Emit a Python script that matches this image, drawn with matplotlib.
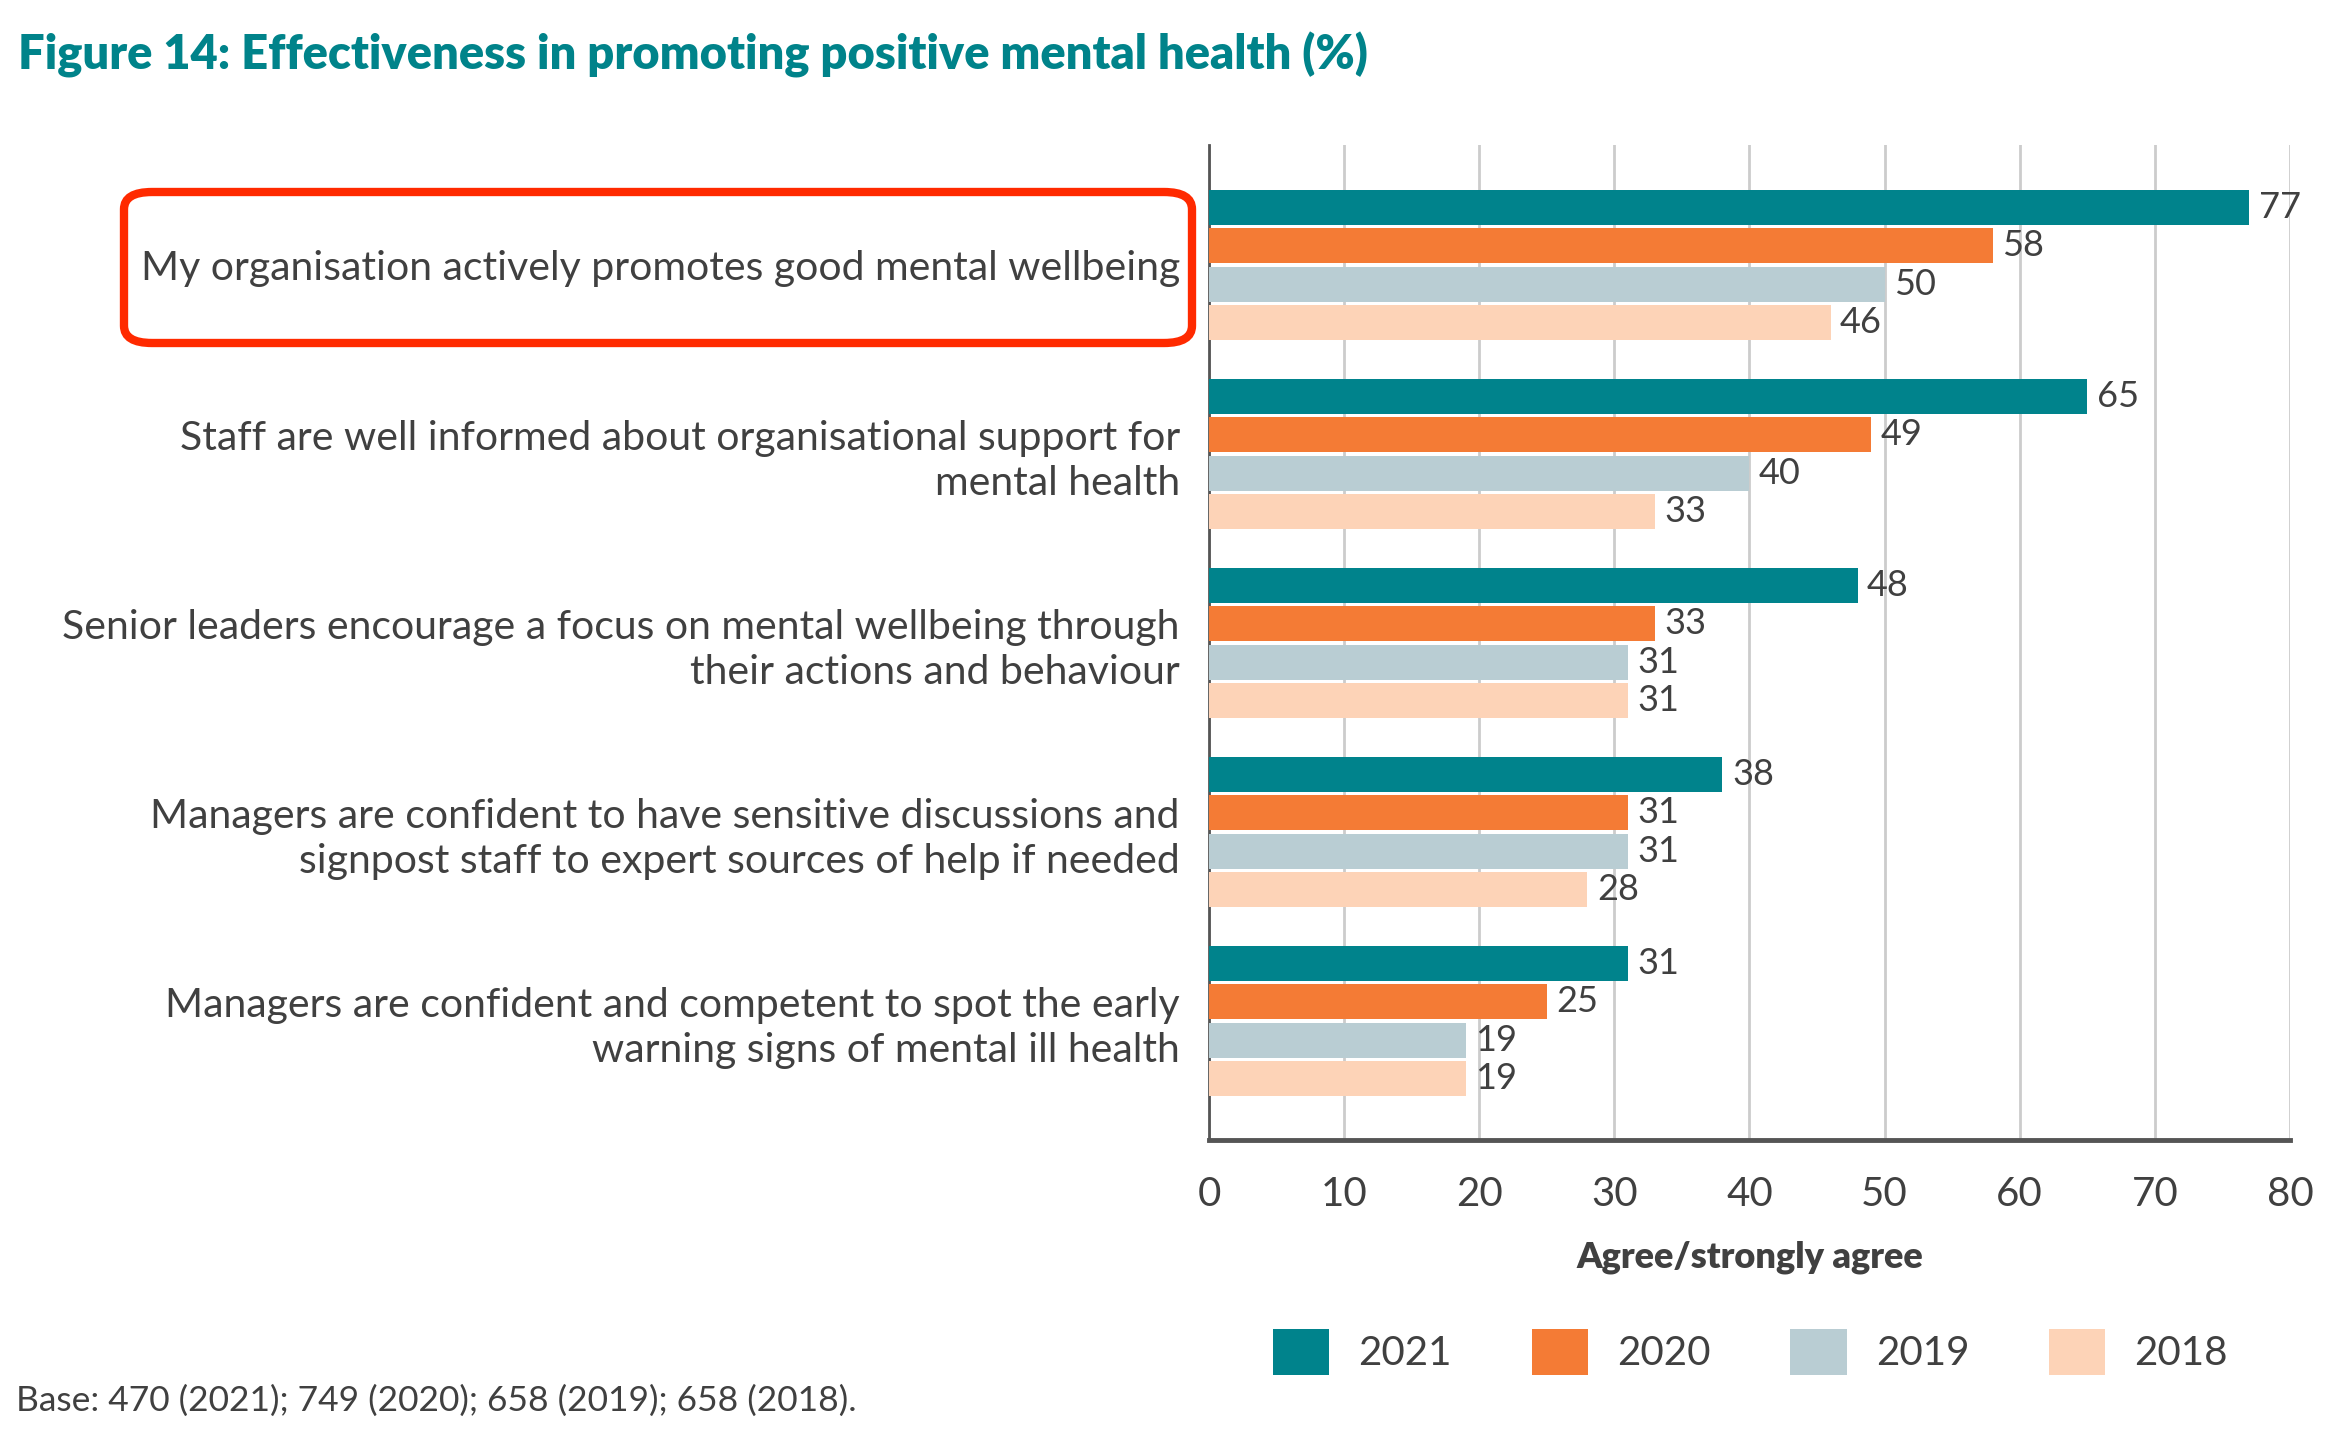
import matplotlib
matplotlib.use("Agg")
import matplotlib.pyplot as plt
from matplotlib.patches import Patch, FancyBboxPatch
import numpy as np

plt.rcParams['font.family'] = ['Lato', 'DejaVu Sans']

categories = [
    "My organisation actively promotes good mental wellbeing",
    "Staff are well informed about organisational support for\nmental health",
    "Senior leaders encourage a focus on mental wellbeing through\ntheir actions and behaviour",
    "Managers are confident to have sensitive discussions and\nsignpost staff to expert sources of help if needed",
    "Managers are confident and competent to spot the early\nwarning signs of mental ill health",
]
years = ["2021", "2020", "2019", "2018"]
v2021 = [77, 65, 48, 38, 31]
v2020 = [58, 49, 33, 31, 25]
v2019 = [50, 40, 31, 31, 19]
v2018 = [46, 33, 31, 28, 19]
series = [v2021, v2020, v2019, v2018]
colors = ["#00838C", "#F47B35", "#B9CDD3", "#FDD3B7"]

text_col = "#404040"
W, H = 2334, 1438
fig = plt.figure(figsize=(W / 100, H / 100), dpi=100)

# axes in pixel box
left, right, top, bottom = 1209, 2290, 145, 1140
ax = fig.add_axes([left / W, 1 - bottom / H, (right - left) / W, (bottom - top) / H])

pitch = 38.3 / 189
bar_h = 35 / 189
y = np.arange(len(categories))
for j, (vals, col) in enumerate(zip(series, colors)):
    pos = y + (j - 1.5) * pitch
    bars = ax.barh(pos, vals, height=bar_h, color=col, zorder=3)
    for b, v in zip(bars, vals):
        ax.text(v + 0.7, b.get_y() + b.get_height() / 2, str(v), va="center", ha="left",
                fontsize=26, color=text_col)

ax.set_xlim(0, 80)
ax.set_ylim(4.63, -0.635)
ax.set_xticks(range(0, 81, 10))
ax.tick_params(axis="x", length=0, labelsize=29, colors=text_col, pad=26)
ax.tick_params(axis="y", length=0, pad=21)
ax.set_yticks(y)
ax.set_yticklabels(categories, fontsize=29.5, color=text_col, linespacing=1.25)
ax.grid(axis="x", color="#CCCCCC", linewidth=2, zorder=0)
ax.spines["top"].set_visible(False)
ax.spines["right"].set_visible(False)
ax.spines["left"].set_color("#555555")
ax.spines["left"].set_linewidth(2)
ax.spines["bottom"].set_color("#555555")
ax.spines["bottom"].set_linewidth(3.5)
ax.set_xlabel("Agree/strongly agree", fontsize=26, fontweight="heavy", color=text_col, labelpad=20)

fig.text(18 / W, 1 - 55 / H, "Figure 14: Effectiveness in promoting positive mental health (%)",
         fontsize=33.8, fontweight="heavy", color="#00838A", va="center", ha="left")

fig.text(16 / W, 1 - 1401 / H, "Base: 470 (2021); 749 (2020); 658 (2019); 658 (2018).",
         fontsize=25.5, color=text_col, va="center", ha="left")

# highlight box around first category
box = FancyBboxPatch((124 / W, 1 - 343 / H), (1192 - 124) / W, (343 - 192) / H,
                     boxstyle="round,pad=0,rounding_size=0.012", transform=fig.transFigure,
                     fill=False, edgecolor="#FF2A00", linewidth=6, zorder=5)
fig.patches.append(box)

handles = [Patch(facecolor=c, label=yr) for c, yr in zip(colors, years)]
fig.legend(handles=handles, loc="center left", bbox_to_anchor=(1273 / W, 1 - 1352 / H),
           ncol=4, frameon=False, fontsize=29, labelcolor=text_col, handlelength=1.4,
           handleheight=1.4, handletextpad=0.72, columnspacing=1.98, borderpad=0,
           borderaxespad=0)

fig.savefig("out.png", dpi=100)
